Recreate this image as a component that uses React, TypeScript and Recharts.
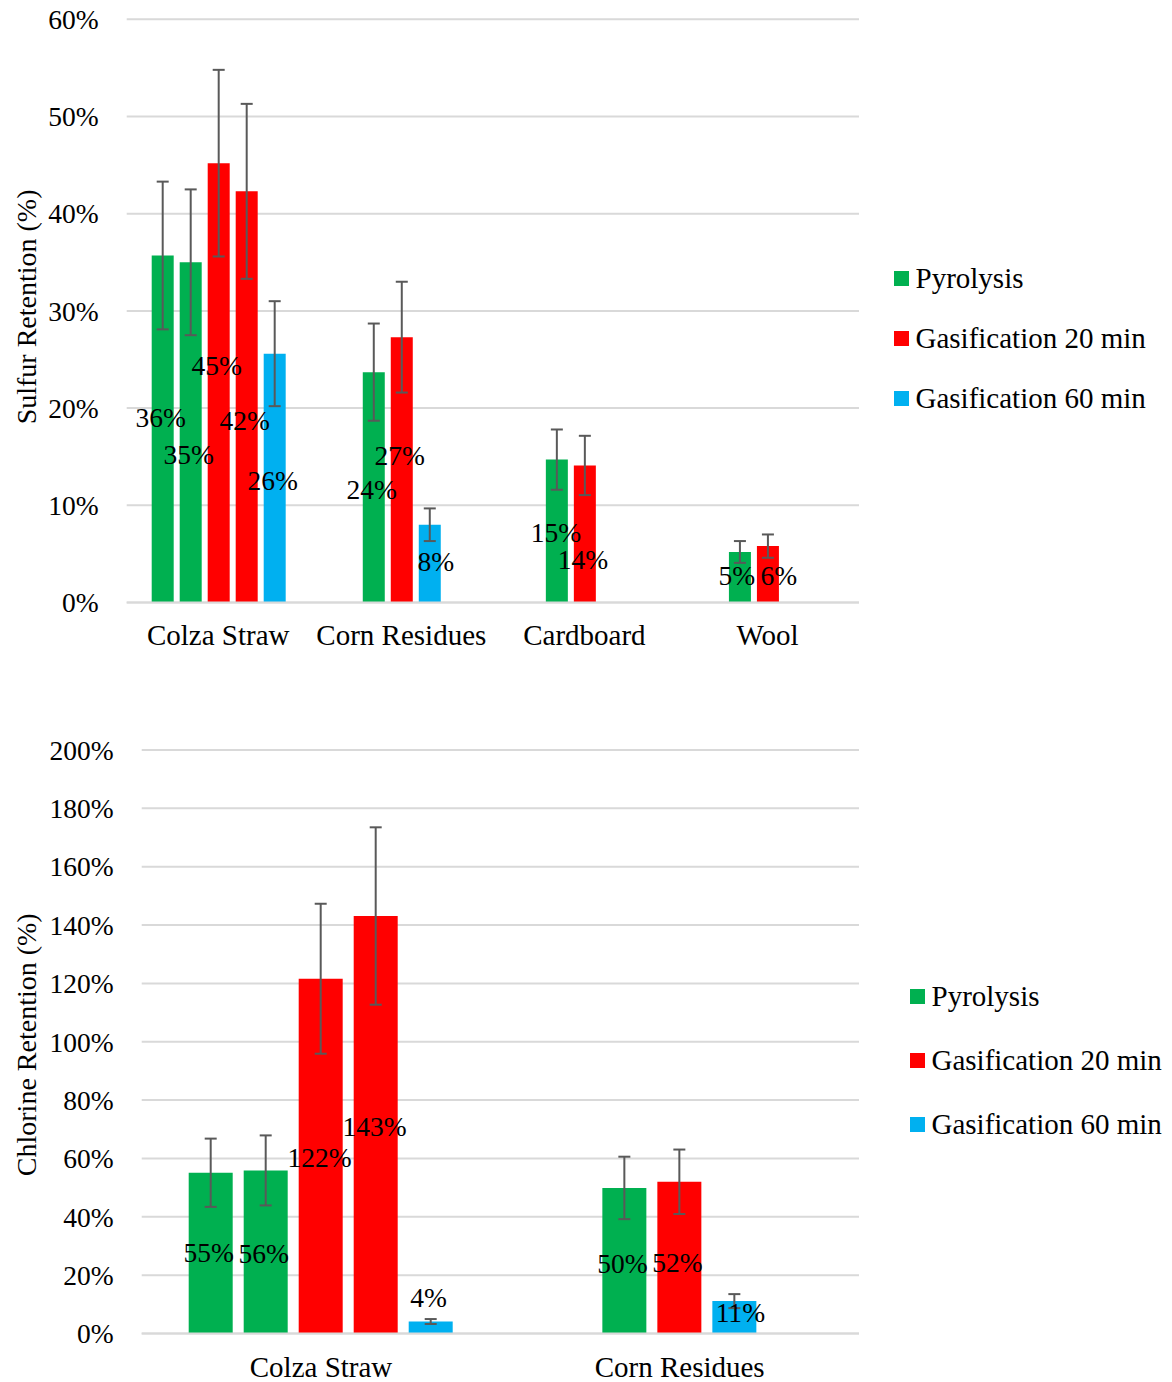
import React from 'react';
import { BarChart, Bar, Cell, XAxis, YAxis, CartesianGrid, ErrorBar, LabelList, Legend } from 'recharts';

const FONT = '"Liberation Serif", "Times New Roman", serif';

const COLORS: Record<string, string> = { P: '#00B050', G20: '#FF0000', G60: '#00B0F0' };
const LEGEND_ITEMS = [
  { key: 'P', label: 'Pyrolysis' },
  { key: 'G20', label: 'Gasification 20 min' },
  { key: 'G60', label: 'Gasification 60 min' },
];

// Sulfur retention (%). Every category has five bar slots, empty slots are null.
const sulfurCategories = ['Colza Straw', 'Corn Residues', 'Cardboard', 'Wool'];
const sulfurSlot1 = [35.7, null, null, null];
const sulfurSlot2 = [35.0, 23.7, 14.7, 5.2];
const sulfurSlot3 = [45.2, 27.3, 14.1, 5.8];
const sulfurSlot4 = [42.3, 8.0, null, null];
const sulfurSlot5 = [25.6, null, null, null];
const sulfurErr1 = [7.6, null, null, null];
const sulfurErr2 = [7.5, 5.0, 3.1, 1.12];
const sulfurErr3 = [9.6, 5.7, 3.05, 1.2];
const sulfurErr4 = [9.0, 1.68, null, null];
const sulfurErr5 = [5.4, null, null, null];
const sulfurMethod1 = ['P', null, null, null];
const sulfurMethod2 = ['P', 'P', 'P', 'P'];
const sulfurMethod3 = ['G20', 'G20', 'G20', 'G20'];
const sulfurMethod4 = ['G20', 'G60', null, null];
const sulfurMethod5 = ['G60', null, null, null];
const sulfurTicks = [0, 10, 20, 30, 40, 50, 60];

// Chlorine retention (%)
const chlorineCategories = ['Colza Straw', 'Corn Residues'];
const chlorineSlot1 = [55.1, null];
const chlorineSlot2 = [55.9, 49.9];
const chlorineSlot3 = [121.6, 52.0];
const chlorineSlot4 = [143.1, 11.1];
const chlorineSlot5 = [4.1, null];
const chlorineErr1 = [11.7, null];
const chlorineErr2 = [12.0, 10.7];
const chlorineErr3 = [25.7, 11.05];
const chlorineErr4 = [30.4, 2.4];
const chlorineErr5 = [0.85, null];
const chlorineMethod1 = ['P', null];
const chlorineMethod2 = ['P', 'P'];
const chlorineMethod3 = ['G20', 'G20'];
const chlorineMethod4 = ['G20', 'G60'];
const chlorineMethod5 = ['G60', null];
const chlorineTicks = [0, 20, 40, 60, 80, 100, 120, 140, 160, 180, 200];

// data label nudges [dx, dy] from bar centre, per slot then per category (labels were hand-moved in the original)
const sulfurNudge = [
  [[-2, -11], null, null, null],
  [[-2, 22], [-2, 2], [-1, 1.5], [-3, -1.5]],
  [[-2, -17], [-2, -14], [-2, 25.5], [11, 1.5]],
  [[-2, 24], [6, -1.5], null, null],
  [[-2, 3], null, null, null],
];
const chlorineNudge = [
  [[-2, 0], null],
  [[-2, 2], [-2, 2.5]],
  [[-1, 2], [-2, 5]],
  [[-1, 2], [6, -4.5]],
  [[-2, -30], null],
];

const buildRows = (cats, slots, errs, methods) =>
  cats.map((name, i) => {
    const row: any = { name };
    slots.forEach((vals, s) => {
      row[`s${s}`] = vals[i];
      row[`e${s}`] = errs[s][i];
      row[`m${s}`] = methods[s][i];
    });
    return row;
  });

const sulfurRows = buildRows(
  sulfurCategories,
  [sulfurSlot1, sulfurSlot2, sulfurSlot3, sulfurSlot4, sulfurSlot5],
  [sulfurErr1, sulfurErr2, sulfurErr3, sulfurErr4, sulfurErr5],
  [sulfurMethod1, sulfurMethod2, sulfurMethod3, sulfurMethod4, sulfurMethod5]
);
const chlorineRows = buildRows(
  chlorineCategories,
  [chlorineSlot1, chlorineSlot2, chlorineSlot3, chlorineSlot4, chlorineSlot5],
  [chlorineErr1, chlorineErr2, chlorineErr3, chlorineErr4, chlorineErr5],
  [chlorineMethod1, chlorineMethod2, chlorineMethod3, chlorineMethod4, chlorineMethod5]
);

const makeLabel = (nudges) => (props) => {
  const { x, y, width, height, value, index } = props;
  const v = Array.isArray(value) ? value[value.length - 1] : value;
  if (v == null) return null;
  const [dx, dy] = nudges[index] || [0, 0];
  return (
    <text
      x={x + width / 2 + dx}
      y={y + height / 2 + dy}
      dy="0.34em"
      textAnchor="middle"
      fontSize={27.5}
      fontFamily={FONT}
      fill="#000"
    >
      {Math.round(v)}%
    </text>
  );
};

const AxisTitle = (props) => {
  const vb = props.viewBox || {};
  const cy = (vb.y || 0) + (vb.height || 0) / 2 + (props.shift || 0);
  return (
    <text
      x={36}
      y={cy}
      transform={`rotate(-90, 36, ${cy})`}
      textAnchor="middle"
      fontSize={28}
      fontFamily={FONT}
      fill="#000"
    >
      {props.text}
    </text>
  );
};

const LegendBox = ({ rowHeight }) => (
  <div style={{ fontFamily: FONT, fontSize: 29, color: '#000' }}>
    {LEGEND_ITEMS.map((item) => (
      <div key={item.key} style={{ display: 'flex', alignItems: 'center', height: rowHeight, whiteSpace: 'nowrap' }}>
        <span style={{ display: 'inline-block', width: 15, height: 15, background: COLORS[item.key], marginRight: 6.5 }} />
        {item.label}
      </div>
    ))}
  </div>
);

const RetentionChart = ({ rows, ticks, max, nudges, title, titleShift, height, margin, yWidth, xHeight, xMargin, barSize, barGap, legendPos, legendRow }) => (
  <BarChart width={1172} height={height} data={rows} margin={margin} barSize={barSize} barGap={barGap}>
    <CartesianGrid vertical={false} stroke="#D9D9D9" strokeWidth={2} />
    <XAxis
      dataKey="name"
      interval={0}
      height={xHeight}
      tickSize={0}
      tickMargin={xMargin}
      tickLine={false}
      axisLine={{ stroke: '#D9D9D9', strokeWidth: 2 }}
      tick={{ fill: '#000', fontSize: 29, fontFamily: FONT }}
    />
    <YAxis
      width={yWidth}
      domain={[0, max]}
      ticks={ticks}
      interval={0}
      tickSize={0}
      tickMargin={28}
      axisLine={false}
      tickLine={false}
      tickFormatter={(v) => `${v}%`}
      tick={{ fill: '#000', fontSize: 27.5, fontFamily: FONT }}
      label={<AxisTitle text={title} shift={titleShift} />}
    />
    <Legend
      layout="vertical"
      align="center"
      verticalAlign="middle"
      wrapperStyle={{ left: legendPos[0], top: legendPos[1], width: 'auto', height: 'auto' }}
      content={() => <LegendBox rowHeight={legendRow} />}
    />
    {[0, 1, 2, 3, 4].map((s) => (
      <Bar key={s} dataKey={`s${s}`} isAnimationActive={false}>
        {rows.map((row, i) => (
          <Cell key={i} fill={COLORS[row[`m${s}`]] || 'transparent'} />
        ))}
        <ErrorBar dataKey={`e${s}`} direction="y" width={6} stroke="#595959" strokeWidth={2} />
        <LabelList dataKey={`s${s}`} content={makeLabel(nudges[s])} />
      </Bar>
    ))}
  </BarChart>
);

export default function App() {
  return (
    <div style={{ position: 'absolute', left: 0, top: 0, width: 1172, height: 1382, background: '#fff', fontFamily: FONT }}>
      <div style={{ position: 'absolute', left: 0, top: 0 }}>
        <RetentionChart
          rows={sulfurRows}
          ticks={sulfurTicks}
          max={60}
          nudges={sulfurNudge}
          title="Sulfur Retention (%)"
          titleShift={-4}
          height={680}
          margin={{ top: 19.3, right: 313, bottom: 17.5, left: 0 }}
          yWidth={126.7}
          xHeight={60}
          xMargin={22}
          barSize={22}
          barGap={6}
          legendPos={[894, 248]}
          legendRow={60}
        />
      </div>
      <div style={{ position: 'absolute', left: 0, top: 700 }}>
        <RetentionChart
          rows={chlorineRows}
          ticks={chlorineTicks}
          max={200}
          nudges={chlorineNudge}
          title="Chlorine Retention (%)"
          titleShift={3}
          height={682}
          margin={{ top: 50, right: 313, bottom: 8.5, left: 0 }}
          yWidth={141.7}
          xHeight={40}
          xMargin={23}
          barSize={44}
          barGap={11}
          legendPos={[910, 264.8]}
          legendRow={63.75}
        />
      </div>
    </div>
  );
}
